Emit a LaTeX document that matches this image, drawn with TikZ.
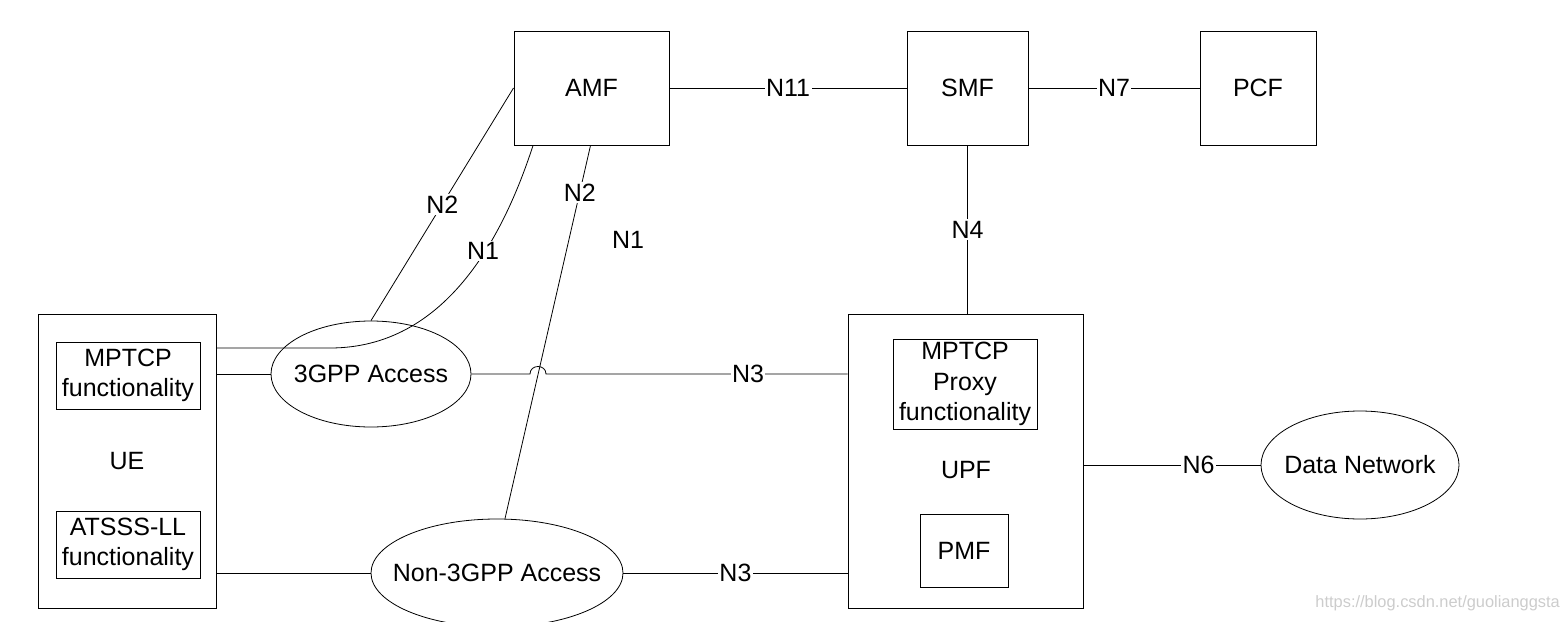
\documentclass[tikz,border=0pt]{standalone}
\usepackage{fontspec}
\setmainfont{Liberation Sans}
\usetikzlibrary{shapes.geometric}
\begin{document}
\begin{tikzpicture}[x=1pt,y=-1pt,
  every node/.style={font=\fontsize{25}{30.5}\selectfont},
  box/.style={draw, line width=1pt, inner sep=0pt, align=center},
  oval/.style={draw, ellipse, line width=0.8pt, inner sep=0pt},
  lnk/.style={line width=0.8pt},
  lbl/.style={fill=white, inner sep=1.5pt}]
\useasboundingbox (0,0) rectangle (1562,621);
% boxes
\node[box, minimum width=155pt, minimum height=114pt] (amf) at (591.5,88) {AMF};
\node[box, minimum width=121pt, minimum height=114pt] (smf) at (967.5,88) {SMF};
\node[box, minimum width=116pt, minimum height=114pt] (pcf) at (1258,88) {PCF};
\node[box, minimum width=178pt, minimum height=294pt] (ue) at (127,461) {UE};
\node[box, minimum width=144pt, minimum height=67pt] (mp) at (128,375.5) {MPTCP\\functionality};
\node[box, minimum width=144pt, minimum height=67pt] (at) at (128,544.5) {ATSSS-LL\\functionality};
\node[box, minimum width=235pt, minimum height=294pt] (upf) at (965.5,461) {};
\node (upfl) at (966,470) {UPF};
\node[box, minimum width=144pt, minimum height=90pt] (mpp) at (965,384) {MPTCP\\Proxy\\functionality};
\node[box, minimum width=88pt, minimum height=73pt] (pmf) at (964,550.5) {PMF};
% ellipses
\node[oval, minimum width=200pt, minimum height=106pt] (g3) at (371,374) {};
\node (g3l) at (371,374) {3GPP Access};
\node[oval, minimum width=252pt, minimum height=108pt] (n3g) at (497,573) {};
\node (n3gl) at (497,573) {Non-3GPP Access};
\node[oval, minimum width=198pt, minimum height=108pt] (dn) at (1360,465) {};
\node (dnl) at (1360,465) {Data Network};
% connectors
\draw[lnk] (amf.east) -- node[lbl]{N11} (smf.west);
\draw[lnk] (smf.east) -- node[lbl]{N7} (pcf.west);
\draw[lnk] (smf.south) -- node[lbl]{N4} (smf.south |- upf.north);
\draw[lnk] (ue.east |- g3.west) -- (g3.west);
\draw[lnk] (g3.east) -- (530,374) .. controls (530,364) and (546,364) .. (546,374)
   -- node[lbl,pos=0.67]{N3} (upf.west |- g3.east);
\draw[lnk] (ue.east |- 0,348) -- (330,348) .. controls (445,348) and (503,238) .. ([xshift=-58.5pt]amf.south);
\node[lbl] (n1a) at (483,251) {N1};
\draw[lnk] (amf.west) -- node[lbl]{N2} (g3.north);
\draw[lnk] ([xshift=-1pt]amf.south) -- node[lbl,pos=0.126]{N2} ([xshift=8pt]n3g.north);
\node (n1b) at (628,240) {N1};
\draw[lnk] (ue.east |- n3g.west) -- (n3g.west);
\draw[lnk] (n3g.east) -- node[lbl]{N3} (upf.west |- n3g.east);
\draw[lnk] (upf.east |- dn.west) -- node[lbl,pos=0.65]{N6} (dn.west);
% watermark
\node[anchor=east, text=gray!40, font=\fontsize{16.4}{20}\selectfont, inner sep=0pt] (wm) at (1560,603) {https://blog.csdn.net/guolianggsta};
\end{tikzpicture}
\end{document}
